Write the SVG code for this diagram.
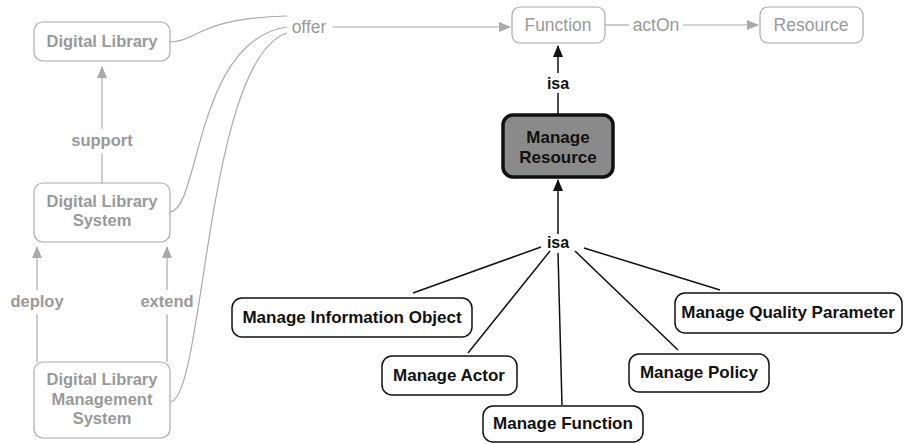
<svg xmlns="http://www.w3.org/2000/svg" width="904" height="444" viewBox="0 0 904 444">
<style>
.g rect{fill:#fff;stroke:#aaa;stroke-width:1.2}
.gt{font-family:"Liberation Sans",Arial,sans-serif;font-size:17.5px;fill:#999;text-anchor:middle}
.gb{font-weight:bold;font-size:16.5px}
.k rect{fill:#fff;stroke:#111;stroke-width:1.5}
.kt{font-family:"Liberation Sans",Arial,sans-serif;font-size:17px;font-weight:bold;fill:#111;text-anchor:middle}
.isa{font-size:16px}
.gl{fill:none;stroke:#aaa;stroke-width:1.2}
.kl{fill:none;stroke:#111;stroke-width:1.5}
</style>
<defs>
<marker id="ag" markerWidth="12" markerHeight="10" refX="11" refY="5" orient="auto" markerUnits="userSpaceOnUse"><path d="M0,0 L12,5 L0,10 Z" fill="#aaa"/></marker>
<marker id="ak" markerWidth="12" markerHeight="10" refX="11" refY="5" orient="auto" markerUnits="userSpaceOnUse"><path d="M0,0 L12,5 L0,10 Z" fill="#111"/></marker>
</defs>
<rect width="904" height="444" fill="#fff"/>
<g id="connectors">
<path class="gl" d="M102,183 L102,153"/>
<path class="gl" d="M102,129 L102,67" marker-end="url(#ag)"/>
<text class="gt gb" x="102" y="146">support</text>
<path class="gl" d="M37,362 L37,314"/>
<path class="gl" d="M37,290 L37,247" marker-end="url(#ag)"/>
<text class="gt gb" x="37" y="307">deploy</text>
<path class="gl" d="M167,362 L167,314"/>
<path class="gl" d="M167,290 L167,247" marker-end="url(#ag)"/>
<text class="gt gb" x="167" y="307">extend</text>
<path class="gl" d="M170,42 C197,42 198,18 287,16"/>
<path class="gl" d="M170,212 C200,210 195,40 287,27"/>
<path class="gl" d="M170,402 C205,400 205,60 287,33"/>
<text class="gt" x="309" y="33">offer</text>
<path class="gl" d="M333,27 L510,27" marker-end="url(#ag)"/>
<path class="gl" d="M605,25 L629,25"/>
<text class="gt" x="656" y="31">actOn</text>
<path class="gl" d="M683,25 L758,25" marker-end="url(#ag)"/>
<path class="kl" d="M558,115 L558,93"/>
<path class="kl" d="M558,73 L558,46" marker-end="url(#ak)"/>
<text class="kt isa" x="558" y="89">isa</text>
<path class="kl" d="M558,234 L558,180" marker-end="url(#ak)"/>
<text class="kt isa" x="558" y="248">isa</text>
<path class="kl" d="M541,247 L413,293"/>
<path class="kl" d="M550,251 L468,353"/>
<path class="kl" d="M558,253 L562,405"/>
<path class="kl" d="M575,251 L678,350"/>
<path class="kl" d="M584,248 L720,290"/>
</g>
<g id="digital-library" class="g"><rect x="34" y="22" width="136" height="39" rx="9"/><text class="gt gb" x="102" y="47">Digital Library</text></g>
<g id="digital-library-system" class="g"><rect x="34" y="183" width="136" height="59" rx="9"/><text class="gt gb" x="102" y="207">Digital Library</text><text class="gt gb" x="102" y="226">System</text></g>
<g id="digital-library-management-system" class="g"><rect x="34" y="362" width="136" height="76" rx="9"/><text class="gt gb" x="102" y="385">Digital Library</text><text class="gt gb" x="102" y="405">Management</text><text class="gt gb" x="102" y="424">System</text></g>
<g id="function" class="g"><rect x="512" y="7" width="93" height="36" rx="8"/><text class="gt" x="558" y="31">Function</text></g>
<g id="resource" class="g"><rect x="760" y="7" width="103" height="36" rx="8"/><text class="gt" x="811" y="31">Resource</text></g>
<g id="manage-resource"><rect x="503" y="115" width="110" height="62" rx="10" fill="#8a8a8a" stroke="#111" stroke-width="3.5"/><text class="kt" x="558" y="143">Manage</text><text class="kt" x="558" y="163">Resource</text></g>
<g id="manage-information-object" class="k"><rect x="232" y="298" width="240" height="39" rx="10"/><text class="kt" x="352" y="323">Manage Information Object</text></g>
<g id="manage-actor" class="k"><rect x="382" y="356" width="135" height="39" rx="10"/><text class="kt" x="449" y="381">Manage Actor</text></g>
<g id="manage-function" class="k"><rect x="483" y="406" width="160" height="36" rx="10"/><text class="kt" x="563" y="429">Manage Function</text></g>
<g id="manage-policy" class="k"><rect x="629" y="354" width="140" height="38" rx="10"/><text class="kt" x="699" y="378">Manage Policy</text></g>
<g id="manage-quality-parameter" class="k"><rect x="675" y="293" width="227" height="40" rx="10"/><text class="kt" x="788" y="318">Manage Quality Parameter</text></g>
</svg>
